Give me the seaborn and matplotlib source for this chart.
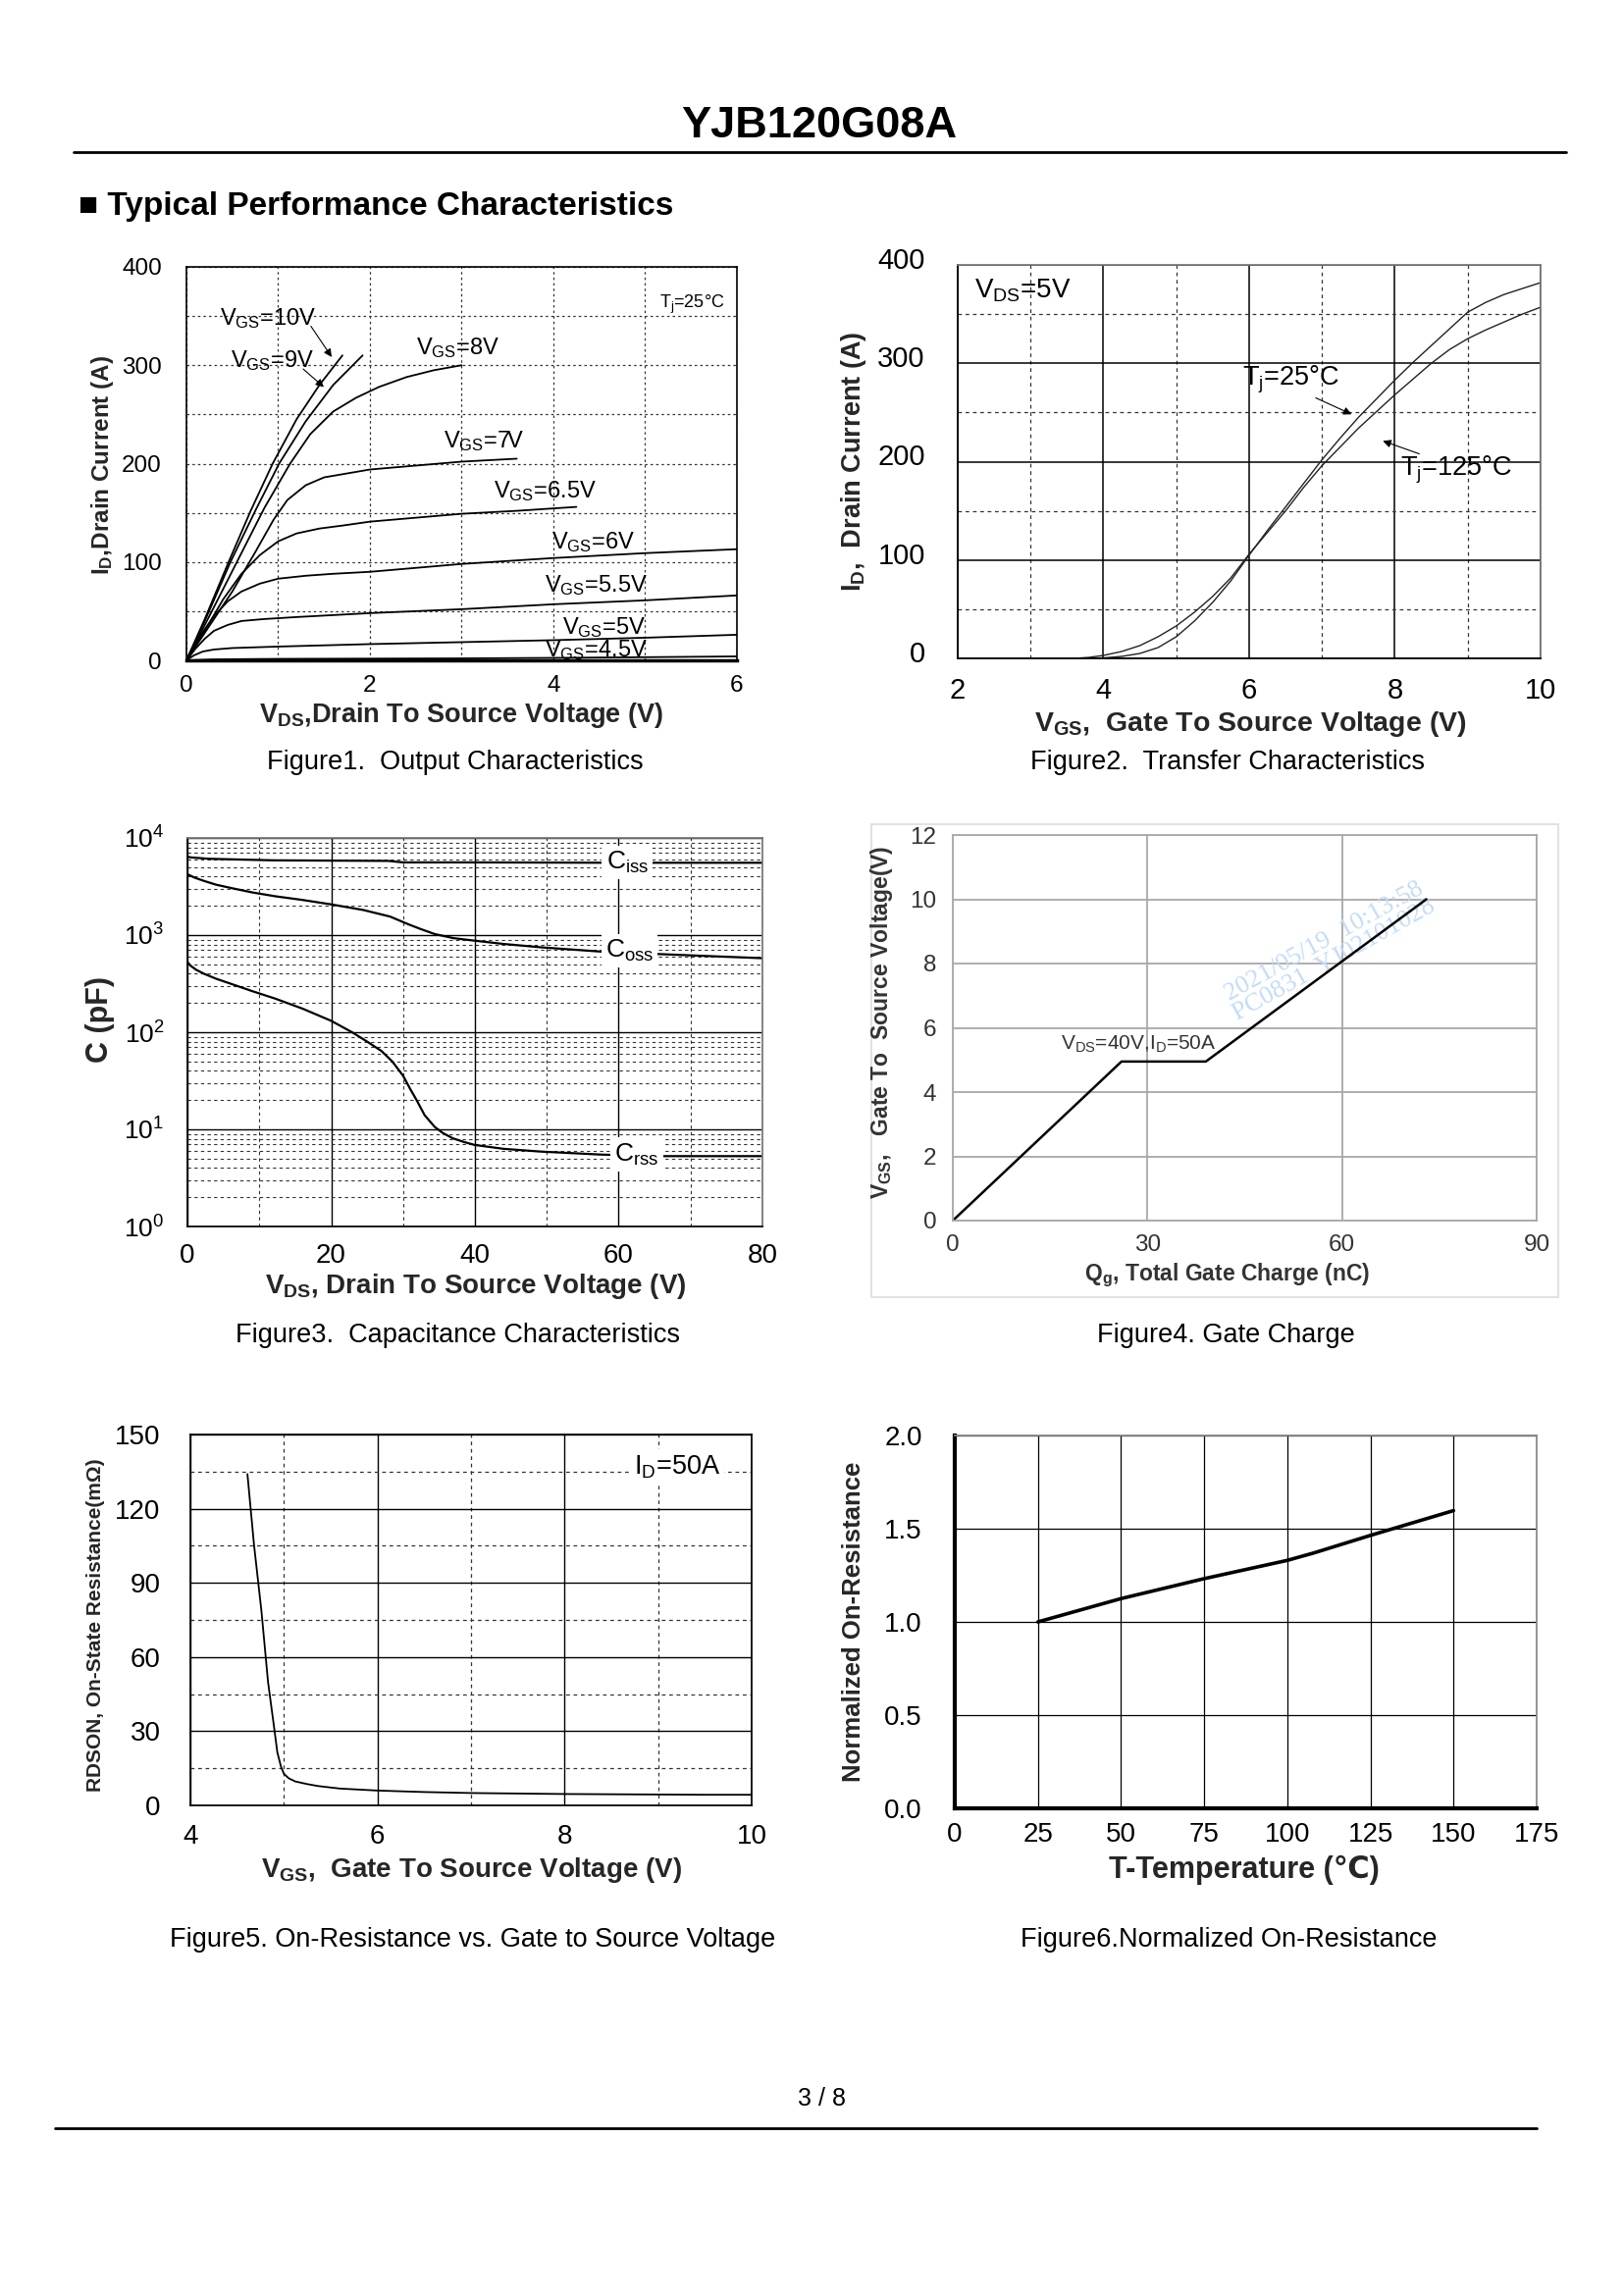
import numpy as np
import pandas as pd
import matplotlib
matplotlib.use('Agg')
import matplotlib.pyplot as plt
import seaborn as sns
from matplotlib.lines import Line2D
from matplotlib.patches import Rectangle
from matplotlib.transforms import ScaledTranslation
from matplotlib.ticker import MultipleLocator, LogLocator, NullFormatter, FormatStrFormatter

# ---- Figure 1: output characteristics (VDS, ID) per VGS
vds_10v = [0, 0.2, 0.46, 0.7, 0.94, 1.2, 1.45, 1.7]
id_10v = [0, 42, 100, 152, 200, 245, 280, 310]
vds_9v = [0, 0.2, 0.48, 0.75, 1.01, 1.3, 1.6, 1.92]
id_9v = [0, 40, 100, 152, 200, 243, 280, 310]
vds_8v = [0, 0.25, 0.55, 0.85, 1.13, 1.35, 1.6, 1.85, 2.1, 2.4, 2.7, 3.0]
id_8v = [0, 45, 100, 155, 200, 230, 253, 267, 278, 288, 295, 300]
vds_7v = [0, 0.25, 0.5, 0.75, 0.95, 1.1, 1.3, 1.5, 1.75, 2.0, 2.5, 3.0, 3.6]
id_7v = [0, 35, 70, 110, 143, 163, 178, 186, 190, 194, 198, 202, 205]
vds_65v = [0, 0.2, 0.4, 0.6, 0.8, 1.0, 1.2, 1.45, 1.7, 2.0, 2.5, 3.0, 3.6, 4.25]
id_65v = [0, 30, 62, 88, 107, 121, 129, 134, 137, 141, 145, 149, 152, 156]
vds_6v = [0, 0.15, 0.3, 0.45, 0.6, 0.8, 1.0, 1.3, 1.6, 2.0, 2.5, 3.0, 3.5, 4.0, 5.0, 6.0]
id_6v = [0, 25, 45, 60, 70, 78, 83, 86, 88, 90, 94, 98, 101, 104, 109, 113]
vds_55v = [0, 0.1, 0.2, 0.3, 0.45, 0.6, 0.85, 1.2, 2.0, 3.0, 4.0, 5.0, 6.0]
id_55v = [0, 12, 22, 30, 36, 40, 42, 44, 48, 52, 57, 61, 66]
vds_5v = [0, 0.08, 0.18, 0.3, 0.5, 1.0, 2.0, 3.0, 4.0, 5.0, 6.0]
id_5v = [0, 5, 9, 11, 12.5, 14, 16.5, 18.5, 20.5, 23, 26]
vds_45v = [0, 0.3, 1.0, 3.0, 4.0, 5.0, 6.0]
id_45v = [0, 1, 1.5, 2, 2.5, 3.2, 4]
vgs_levels = ['10V', '9V', '8V', '7V', '6.5V', '6V', '5.5V', '5V', '4.5V']

# ---- Figure 2: transfer characteristics
vgs_tr = [3.6, 3.8, 4.0, 4.25, 4.5, 4.75, 5.0, 5.25, 5.5, 5.75, 6.0, 6.25, 6.5, 6.75,
          7.0, 7.25, 7.5, 7.75, 8.0, 8.25, 8.5, 8.75, 9.0, 9.25, 9.5, 9.75, 10.0]
id_25c = [0, 0.2, 0.5, 2, 5, 11, 22, 38, 57, 79, 105, 130, 154, 178,
          202, 224, 245, 264, 283, 301, 318, 335, 352, 362, 370, 376, 382]
id_125c = [0, 1, 3, 7, 13, 22, 33, 47, 63, 82, 106, 128, 150, 174,
           196, 215, 234, 251, 268, 284, 300, 314, 325, 334, 342, 350, 357]

# ---- Figure 3: capacitance
vds_ciss = [0, 0.5, 3, 12, 28, 30, 40, 60, 80]
ciss = [6400, 6300, 6100, 5880, 5800, 5600, 5600, 5550, 5550]
vds_coss = [0, 1, 2.3, 4, 6, 9, 12.2, 16, 20, 24.5, 28.2, 30.7, 32.5, 34.4, 37, 40,
            44, 49.2, 57.5, 65, 72, 80]
coss = [4230, 3900, 3610, 3300, 3060, 2750, 2510, 2300, 2070, 1810, 1550, 1295, 1150,
        1025, 930, 875, 810, 748, 676, 640, 610, 578]
vds_crss = [0, 0.5, 1.2, 2.3, 4, 6, 9, 12.2, 16, 20, 23, 25, 27, 28.5, 30, 31, 31.9,
            33, 34.4, 35.5, 36.9, 38.5, 40, 44, 49.2, 57.5, 65, 80]
crss = [526, 480, 440, 400, 355, 316, 265, 222, 175, 131, 99, 80, 64, 50, 35.7, 26,
        19.9, 14, 10.6, 9.2, 8.1, 7.4, 6.9, 6.3, 5.9, 5.5, 5.3, 5.3]

# ---- Figure 4: gate charge
qg = [0, 26, 39, 73]
vgs_qg = [0, 4.95, 4.95, 10]

# ---- Figure 5: RDSON vs VGS
vgs_r = [4.61, 4.68, 4.76, 4.83, 4.89, 4.93, 4.97, 5.0, 5.05, 5.12, 5.25, 5.37, 5.6,
         6.0, 6.5, 7.0, 7.5, 8.0, 8.5, 9.0, 9.5, 10.0]
rdson = [134, 105.5, 78.5, 50, 33, 21.4, 15.5, 12.8, 11, 9.7, 8.6, 7.8, 6.8,
         6.0, 5.4, 5.0, 4.8, 4.6, 4.5, 4.4, 4.3, 4.3]

# ---- Figure 6: normalized on-resistance vs temperature
temp = [25, 50, 75, 100, 108, 125, 150]
rnorm = [1.0, 1.125, 1.232, 1.33, 1.37, 1.464, 1.597]

sns.set_theme(style='white')
plt.rcParams['font.family'] = ['Liberation Sans', 'DejaVu Sans', 'Noto Sans CJK SC']
plt.rcParams['mathtext.fontset'] = 'custom'
plt.rcParams['mathtext.rm'] = 'Liberation Sans'
plt.rcParams['mathtext.it'] = 'Liberation Sans:italic'
plt.rcParams['mathtext.bf'] = 'Liberation Sans:bold'
plt.rcParams['mathtext.default'] = 'regular'
plt.rcParams['axes.edgecolor'] = 'black'
plt.rcParams['text.color'] = 'black'
plt.rcParams['xtick.color'] = 'black'
plt.rcParams['ytick.color'] = 'black'

W, H = 1656, 2339
fig = plt.figure(figsize=(W / 100, H / 100), dpi=100)
fig.patch.set_facecolor('white')


def box(l, t, r, b):
    ax = fig.add_axes([l / W, 1 - b / H, (r - l) / W, (b - t) / H])
    ax.set_facecolor('white')
    ax._px = (l, t, r, b)
    return ax


def labels(ax, xl, xpos, yl, ypos, size_x, size_y):
    l, t, r, b = ax._px
    ax.set_xlabel(xl, fontsize=size_x, fontweight='bold', ha='center', va='center')
    ax.set_ylabel(yl, fontsize=size_y, fontweight='bold', ha='center', va='center')
    ax.xaxis.set_label_coords((xpos[0] - l) / (r - l), (b - xpos[1]) / (b - t))
    ax.yaxis.set_label_coords((ypos[0] - l) / (r - l), (b - ypos[1]) / (b - t))


def caption(text, x, y):
    fig.text(x / W, 1 - y / H, text, fontsize=19.5, ha='center', va='center')


dash = (0, (3, 3))
dot = (0, (2, 2.5))

# header / footer
fig.text(835 / W, 1 - 128 / H, 'YJB120G08A', fontsize=32.5, fontweight='bold',
         ha='center', va='center')
fig.add_artist(Line2D([75 / W, 1596 / W], [1 - 155 / H] * 2, lw=2, color='black'))
fig.text(80 / W, 1 - 211 / H, '■ Typical Performance Characteristics', fontsize=24,
         fontweight='bold', va='center')
fig.text(838 / W, 1 - 2139 / H, '3 / 8', fontsize=18, ha='center', va='center')
fig.add_artist(Line2D([56 / W, 1566 / W], [1 - 2169 / H] * 2, lw=2, color='black'))

# ================= Figure 1
ax1 = box(190, 272, 751, 673)
curves1 = [(vds_10v, id_10v), (vds_9v, id_9v), (vds_8v, id_8v), (vds_7v, id_7v),
           (vds_65v, id_65v), (vds_6v, id_6v), (vds_55v, id_55v), (vds_5v, id_5v),
           (vds_45v, id_45v)]
df1 = pd.concat([pd.DataFrame({'VDS': x, 'ID': y, 'VGS': k})
                 for k, (x, y) in zip(vgs_levels, curves1)])
sns.lineplot(data=df1, x='VDS', y='ID', hue='VGS', palette={k: 'black' for k in vgs_levels},
             estimator=None, legend=False, lw=1.3, ax=ax1)
ax1.set_xlim(0, 6)
ax1.set_ylim(0, 400)
ax1.xaxis.set_major_locator(MultipleLocator(2))
ax1.xaxis.set_minor_locator(MultipleLocator(1))
ax1.yaxis.set_major_locator(MultipleLocator(100))
ax1.yaxis.set_minor_locator(MultipleLocator(50))
ax1.grid(which='both', ls=dot, color='#333333', lw=0.9)
ax1.set_axisbelow(True)
ax1.tick_params(which='both', direction='out', length=6, width=1, labelsize=17.5)
ax1.tick_params(axis='y', pad=12)
ax1.tick_params(axis='x', pad=5)
ax1.tick_params(axis='x', which='minor', length=0)
for s in ax1.spines.values():
    s.set_linewidth(1.2)
ax1.spines['bottom'].set_linewidth(2.5)
for txt, x, y in [('10V', 0.36, 348), ('9V', 0.48, 305), ('8V', 2.5, 318), ('7V', 2.8, 223),
                  ('6.5V', 3.35, 172), ('6V', 3.98, 120), ('5.5V', 3.9, 76),
                  ('5V', 4.1, 33.5), ('4.5V', 3.9, 10)]:
    ax1.text(x, y, r'V$_{GS}$=' + txt, fontsize=17, va='center', ha='left')
ax1.text(5.16, 362, r'T$_j$=25°C', fontsize=13, va='center', ha='left')
arr = dict(arrowstyle='-|>', color='black', lw=0.8, mutation_scale=12)
ax1.annotate('', xy=(1.6, 306), xytext=(1.34, 342), arrowprops=arr)
ax1.annotate('', xy=(1.52, 276), xytext=(1.25, 298), arrowprops=arr)
labels(ax1, r'V$_{DS}$,Drain To Source Voltage (V)', (470, 729),
       r'I$_D$,Drain Current (A)', (105, 474), 19.5, 17.5)
caption('Figure1.  Output Characteristics', 464, 777)

# ================= Figure 2
ax2 = box(976, 270, 1570, 671)
df2 = pd.concat([pd.DataFrame({'VGS': vgs_tr, 'ID': id_25c, 'Tj': '25'}),
                 pd.DataFrame({'VGS': vgs_tr, 'ID': id_125c, 'Tj': '125'})])
sns.lineplot(data=df2, x='VGS', y='ID', hue='Tj', palette={'25': '#222222', '125': '#222222'},
             estimator=None, legend=False, lw=1.0, ax=ax2)
ax2.set_xlim(2, 10)
ax2.set_ylim(0, 400)
ax2.xaxis.set_major_locator(MultipleLocator(2))
ax2.xaxis.set_minor_locator(MultipleLocator(1))
ax2.yaxis.set_major_locator(MultipleLocator(100))
ax2.yaxis.set_minor_locator(MultipleLocator(50))
ax2.grid(which='major', ls='-', color='black', lw=1.1)
ax2.grid(which='minor', ls=dash, color='#333333', lw=0.9)
ax2.set_axisbelow(True)
ax2.tick_params(which='both', direction='out', length=6, width=1, labelsize=21)
ax2.tick_params(axis='y', pad=18)
ax2.tick_params(axis='x', pad=8)
ax2.tick_params(axis='x', which='minor', length=0)
# y labels sit a little above their grid lines in the original
for lab in ax2.get_yticklabels():
    lab.set_transform(lab.get_transform() + ScaledTranslation(0, 0.07, fig.dpi_scale_trans))
ax2.spines['top'].set_color('#777777')
ax2.spines['right'].set_color('#777777')
ax2.spines['left'].set_linewidth(1.3)
ax2.spines['bottom'].set_linewidth(1.3)
ax2.text(2.23, 374, r'V$_{DS}$=5V', fontsize=20, va='center', ha='left')
ax2.text(5.9, 283, r'T$_j$=25°C', fontsize=19.5, va='center', ha='left')
ax2.text(8.07, 192, r'T$_j$=125°C', fontsize=19.5, va='center', ha='left')
ax2.annotate('', xy=(7.44, 247), xytext=(6.88, 266), arrowprops=arr)
ax2.annotate('', xy=(7.8, 222), xytext=(8.37, 207), arrowprops=arr)
labels(ax2, r'V$_{GS}$,  Gate To Source Voltage (V)', (1274, 738),
       r'I$_D$,  Drain Current (A)', (870, 470), 20.5, 19.5)
caption('Figure2.  Transfer Characteristics', 1251, 777)

# ================= Figure 3
ax3 = box(191, 854, 777, 1250)
df3 = pd.concat([pd.DataFrame({'VDS': vds_ciss, 'C': ciss, 'kind': 'Ciss'}),
                 pd.DataFrame({'VDS': vds_coss, 'C': coss, 'kind': 'Coss'}),
                 pd.DataFrame({'VDS': vds_crss, 'C': crss, 'kind': 'Crss'})])
sns.lineplot(data=df3, x='VDS', y='C', hue='kind',
             palette={'Ciss': 'black', 'Coss': 'black', 'Crss': 'black'},
             estimator=None, legend=False, lw=1.6, ax=ax3)
ax3.set_yscale('log')
ax3.set_xlim(0, 80)
ax3.set_ylim(1, 1e4)
ax3.xaxis.set_major_locator(MultipleLocator(20))
ax3.xaxis.set_minor_locator(MultipleLocator(10))
ax3.yaxis.set_major_locator(LogLocator(base=10, numticks=10))
ax3.yaxis.set_minor_locator(LogLocator(base=10, subs=np.arange(2, 10), numticks=20))
ax3.yaxis.set_minor_formatter(NullFormatter())
ax3.grid(which='major', ls='-', color='black', lw=1.0)
ax3.grid(which='minor', ls=dash, color='#333333', lw=0.8)
ax3.set_axisbelow(True)
ax3.tick_params(which='both', direction='out', length=6, width=1, labelsize=20)
ax3.tick_params(axis='y', labelsize=19, pad=11)
ax3.tick_params(axis='x', pad=6)
ax3.tick_params(axis='x', which='minor', length=0)
ax3.spines['top'].set_color('#777777')
ax3.spines['right'].set_color('#777777')
bb = dict(fc='white', ec='none', pad=3)
ax3.text(61.2, 5600, r'C$_{iss}$', fontsize=19, va='center', ha='center', bbox=bb)
ax3.text(61.5, 690, r'C$_{oss}$', fontsize=19, va='center', ha='center', bbox=bb)
ax3.text(62.5, 5.5, r'C$_{rss}$', fontsize=19, va='center', ha='center', bbox=bb)
labels(ax3, r'V$_{DS}$, Drain To Source Voltage (V)', (485, 1311),
       'C (pF)', (102, 1039), 20, 22)
caption('Figure3.  Capacitance Characteristics', 467, 1361)

# ================= Figure 4
fig.add_artist(Rectangle((888 / W, 1 - 1322 / H), 700 / W, 482 / H, transform=fig.transFigure,
                         fc='white', ec='#e2e2e2', lw=1.5, zorder=0))
ax4 = box(971, 851, 1566, 1244)
sns.lineplot(x=qg, y=vgs_qg, color='black', lw=1.8, estimator=None, ax=ax4)
ax4.set_xlim(0, 90)
ax4.set_ylim(0, 12)
ax4.xaxis.set_major_locator(MultipleLocator(30))
ax4.yaxis.set_major_locator(MultipleLocator(2))
ax4.grid(which='major', ls='-', color='#a8a8a8', lw=1.3)
ax4.set_axisbelow(True)
ax4.tick_params(which='both', direction='out', length=6, width=1, color='#a8a8a8',
                labelsize=17.5, labelcolor='#333333')
ax4.tick_params(axis='y', pad=6)
ax4.tick_params(axis='x', pad=4)
for s in ax4.spines.values():
    s.set_color('#a8a8a8')
    s.set_linewidth(1.3)
ax4.text(16.7, 5.5, r'V$_{DS}$=40V,I$_D$=50A', fontsize=15, color='#333333',
         va='center', ha='left')
ax4.text(58, 8.4, '2021/05/19  10:13:58\nPC0831  YJ02101028', fontsize=19,
         family='Liberation Serif', color='#c4dbf6', rotation=29, ha='center',
         va='center', linespacing=1.0, zorder=1)
labels(ax4, r'Q$_g$, Total Gate Charge (nC)', (1251, 1300),
       r'V$_{GS}$,   Gate To  Source Voltage(V)', (899, 1042), 16.5, 16.5)
ax4.xaxis.label.set_color('#333333')
ax4.yaxis.label.set_color('#333333')
caption('Figure4. Gate Charge', 1249, 1361)

# ================= Figure 5
ax5 = box(194, 1462, 766, 1840)
sns.lineplot(x=vgs_r, y=rdson, color='black', lw=1.3, estimator=None, ax=ax5)
ax5.set_xlim(4, 10)
ax5.set_ylim(0, 150)
ax5.xaxis.set_major_locator(MultipleLocator(2))
ax5.xaxis.set_minor_locator(MultipleLocator(1))
ax5.yaxis.set_major_locator(MultipleLocator(30))
ax5.yaxis.set_minor_locator(MultipleLocator(15))
ax5.grid(which='major', ls='-', color='black', lw=1.0)
ax5.grid(which='minor', ls=dash, color='#333333', lw=0.9)
ax5.set_axisbelow(True)
ax5.tick_params(which='both', direction='out', length=6, width=1, labelsize=20)
ax5.tick_params(axis='y', pad=16)
ax5.tick_params(axis='x', pad=8)
ax5.tick_params(axis='x', which='minor', length=0)
ax5.text(8.74, 137, r'I$_D$=50A', fontsize=19.5, va='center', ha='left', bbox=bb)
labels(ax5, r'V$_{GS}$,  Gate To Source Voltage (V)', (481, 1906),
       'RDSON, On-State Resistance(mΩ)', (98, 1656), 20, 15)
caption('Figure5. On-Resistance vs. Gate to Source Voltage', 482, 1977)

# ================= Figure 6
ax6 = box(973, 1463, 1566, 1843)
sns.lineplot(x=temp, y=rnorm, color='black', lw=2.6, estimator=None, ax=ax6)
ax6.set_xlim(0, 175)
ax6.set_ylim(0, 2.0)
ax6.xaxis.set_major_locator(MultipleLocator(25))
ax6.yaxis.set_major_locator(MultipleLocator(0.5))
ax6.yaxis.set_major_formatter(FormatStrFormatter('%.1f'))
ax6.grid(which='major', ls='-', color='black', lw=0.9)
ax6.set_axisbelow(True)
ax6.tick_params(which='both', direction='out', length=4, width=2.5, labelsize=20)
ax6.tick_params(axis='y', pad=20)
ax6.tick_params(axis='x', pad=6)
ax6.spines['left'].set_linewidth(3)
ax6.spines['bottom'].set_linewidth(3)
ax6.spines['top'].set_color('#888888')
ax6.spines['right'].set_color('#888888')
labels(ax6, 'T-Temperature (℃)', (1268, 1906), 'Normalized On-Resistance', (870, 1653), 22, 18.5)
caption('Figure6.Normalized On-Resistance', 1252, 1977)

fig.savefig('out.png', dpi=100, facecolor='white')
